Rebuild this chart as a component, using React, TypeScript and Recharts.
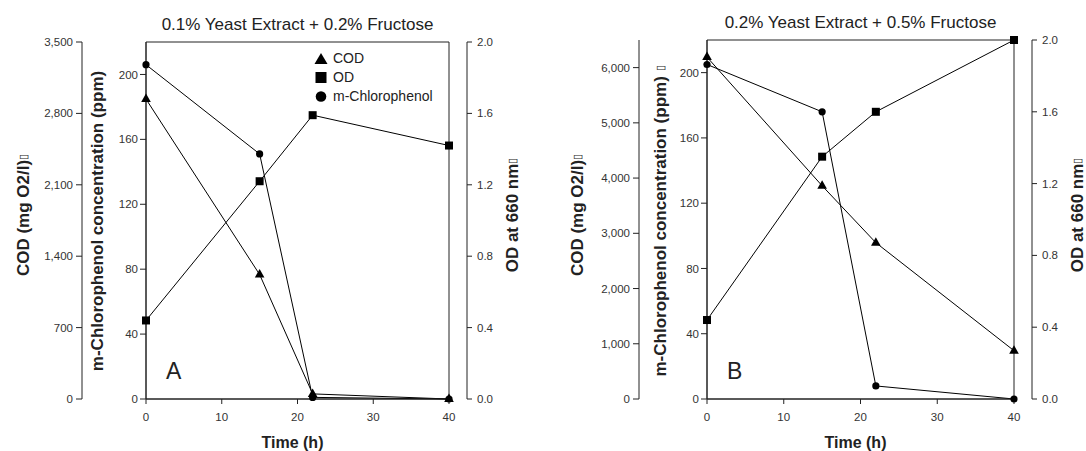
import React from 'react';
import { LineChart, Line, XAxis, YAxis, ReferenceArea, Label, Legend } from 'recharts';

// sampling times (h)
const time = [0, 15, 22, 40];

// panel A: 0.1% yeast extract + 0.2% fructose
const codA = [2940, 1220, 50, 0];
const odA = [0.44, 1.22, 1.59, 1.42];
const mcpA = [206, 151, 1, 0];

// panel B: 0.2% yeast extract + 0.5% fructose
const codB = [6190, 3860, 2830, 875];
const odB = [0.44, 1.35, 1.6, 2.0];
const mcpB = [205, 176, 8, 0];

const timeTicks = [0, 10, 20, 30, 40];
const mcpTicks = [0, 40, 80, 120, 160, 200];
const odTicks = [0, 0.4, 0.8, 1.2, 1.6, 2.0];
const codTicksA = [0, 700, 1400, 2100, 2800, 3500];
const codTicksB = [0, 1000, 2000, 3000, 4000, 5000, 6000];

const legendNames = ['COD', 'OD', 'm-Chlorophenol'];

const FONT = '"Liberation Sans", Arial, Helvetica, sans-serif';
const INK = '#222';
const tickStyle = { fontSize: 11.5, fill: '#333' };

// axis ids: the one nearest the plot on each side sorts first
const MCP = 'y1mcp';
const COD = 'y2cod';
const GAP = 'y1gap';
const OD = 'y2od';

const Triangle = (p: any) => {
  const { cx, cy } = p;
  if (cx == null || cy == null) return <g />;
  return <path d={`M${cx},${cy - 5.5} L${cx + 4.8},${cy + 3} L${cx - 4.8},${cy + 3} Z`} fill="#000" />;
};
const Square = (p: any) => {
  const { cx, cy } = p;
  if (cx == null || cy == null) return <g />;
  return <rect x={cx - 4} y={cy - 4} width={8} height={8} fill="#000" />;
};
const Circle = (p: any) => {
  const { cx, cy } = p;
  if (cx == null || cy == null) return <g />;
  return <circle cx={cx} cy={cy} r={3.6} fill="#000" />;
};

const vTitle = (text: string, x: number, y: number, box: boolean) => () => (
  <text
    x={x}
    y={y}
    transform={`rotate(-90 ${x} ${y})`}
    textAnchor="middle"
    dominantBaseline="central"
    fontSize={17}
    fontWeight="bold"
    fill={INK}
  >
    {text}
    {box ? <tspan fontSize={11} fontWeight="normal">{'\u25AF'}</tspan> : null}
  </text>
);

const hTitle = (text: string, x: number, y: number) => () => (
  <text x={x} y={y} textAnchor="middle" fontSize={16} fontWeight="bold" fill={INK}>
    {text}
  </text>
);

const legendMarks = [
  <path d="M6,0 L12.5,11 L-0.5,11 Z" fill="#000" />,
  <rect x={0.5} y={0} width={11} height={11} fill="#000" />,
  <circle cx={6} cy={5.5} r={5.3} fill="#000" />,
];

const LegendBox = () => (
  <div style={{ fontSize: 14, color: INK, lineHeight: '19px' }}>
    {legendNames.map((name, i) => (
      <div key={name} style={{ display: 'flex', alignItems: 'center' }}>
        <svg width={13} height={12} style={{ marginRight: 5, overflow: 'visible' }}>
          {legendMarks[i]}
        </svg>
        <span>{name}</span>
      </div>
    ))}
  </div>
);

type PanelProps = {
  left: number;
  cod: number[];
  od: number[];
  mcp: number[];
  codMax: number;
  codTicks: number[];
  title: string;
  letter: string;
  margin: { top: number; right: number; left: number; bottom: number };
  codWidth: number;
  mcpWidth: number;
  odWidth: number;
  labelX: { cod: number; mcp: number; od: number };
  ppmBox: boolean;
  showLegend: boolean;
};

const Panel = (p: PanelProps) => {
  const rows = time.map((t, i) => ({ t, cod: p.cod[i], od: p.od[i], mcp: p.mcp[i] }));
  const plotLeft = p.margin.left + p.codWidth + p.mcpWidth;
  const plotRight = 543 - p.margin.right - 18 - p.odWidth;
  const plotCenter = (plotLeft + plotRight) / 2;
  return (
    <div style={{ position: 'absolute', left: p.left, top: 0 }}>
      <LineChart width={543} height={451} data={rows} margin={p.margin}>
        <XAxis
          dataKey="t"
          type="number"
          domain={[0, 40]}
          ticks={timeTicks}
          height={52}
          stroke={INK}
          tickSize={5}
          tickMargin={9}
          tick={tickStyle}
        >
          <Label content={hTitle('Time (h)', plotCenter - 5, 448)} />
        </XAxis>
        <YAxis
          yAxisId={MCP}
          orientation="left"
          type="number"
          domain={[0, 220]}
          ticks={mcpTicks}
          width={p.mcpWidth}
          stroke={INK}
          tickSize={6}
          tickMargin={2}
          tick={tickStyle}
        >
          <Label content={vTitle('m-Chlorophenol concentration (ppm) ', p.labelX.mcp, 221, p.ppmBox)} />
        </YAxis>
        <YAxis
          yAxisId={COD}
          orientation="left"
          type="number"
          domain={[0, p.codMax]}
          ticks={p.codTicks}
          width={p.codWidth}
          stroke={INK}
          tickSize={6}
          tickMargin={3}
          tick={tickStyle}
          tickFormatter={(v: number) => v.toLocaleString('en-US')}
        >
          <Label content={vTitle('COD (mg O2/l)', p.labelX.cod, 215, true)} />
        </YAxis>
        <YAxis yAxisId={GAP} orientation="right" type="number" domain={[0, 1]} width={18} axisLine={false} tickLine={false} tick={false} />
        <YAxis
          yAxisId={OD}
          orientation="right"
          type="number"
          domain={[0, 2]}
          ticks={odTicks}
          width={p.odWidth}
          stroke={INK}
          tickSize={5}
          tickMargin={5}
          tick={tickStyle}
          tickFormatter={(v: number) => v.toFixed(1)}
        >
          <Label content={vTitle('OD at 660 nm', p.labelX.od, 215, true)} />
        </YAxis>
        <ReferenceArea yAxisId={MCP} x1={0} x2={40} y1={0} y2={220} fill="none" stroke={INK} strokeWidth={1}>
          <Label value={p.title} position="top" offset={12} fontSize={17} fill={INK} />
          <Label value={p.letter} position="insideBottomLeft" offset={20} fontSize={23} fill={INK} />
        </ReferenceArea>
        <Line yAxisId={COD} dataKey="cod" stroke="#000" strokeWidth={1} dot={<Triangle />} isAnimationActive={false} />
        <Line yAxisId={OD} dataKey="od" stroke="#000" strokeWidth={1} dot={<Square />} isAnimationActive={false} />
        <Line yAxisId={MCP} dataKey="mcp" stroke="#000" strokeWidth={1} dot={<Circle />} isAnimationActive={false} />
        {p.showLegend ? (
          <Legend
            layout="vertical"
            align="center"
            verticalAlign="middle"
            content={<LegendBox />}
            wrapperStyle={{ position: 'absolute', left: 315, top: 49, width: 'auto', height: 'auto' }}
          />
        ) : null}
      </LineChart>
    </div>
  );
};

export default function App() {
  return (
    <div style={{ position: 'absolute', left: 0, top: 0, width: 1086, height: 451, background: '#fff', fontFamily: FONT }}>
      <Panel
        left={0}
        cod={codA}
        od={odA}
        mcp={mcpA}
        codMax={3500}
        codTicks={codTicksA}
        title="0.1% Yeast Extract + 0.2% Fructose"
        letter="A"
        margin={{ top: 42, right: 16, left: 10, bottom: 0 }}
        codWidth={72}
        mcpWidth={64}
        odWidth={60}
        labelX={{ cod: 23, mcp: 97, od: 512 }}
        ppmBox={false}
        showLegend={true}
      />
      <Panel
        left={543}
        cod={codB}
        od={odB}
        mcp={mcpB}
        codMax={6500}
        codTicks={codTicksB}
        title="0.2% Yeast Extract + 0.5% Fructose"
        letter="B"
        margin={{ top: 40, right: 4, left: 24, bottom: 0 }}
        codWidth={72}
        mcpWidth={68}
        odWidth={50}
        labelX={{ cod: 34, mcp: 117, od: 534 }}
        ppmBox={true}
        showLegend={false}
      />
    </div>
  );
}
